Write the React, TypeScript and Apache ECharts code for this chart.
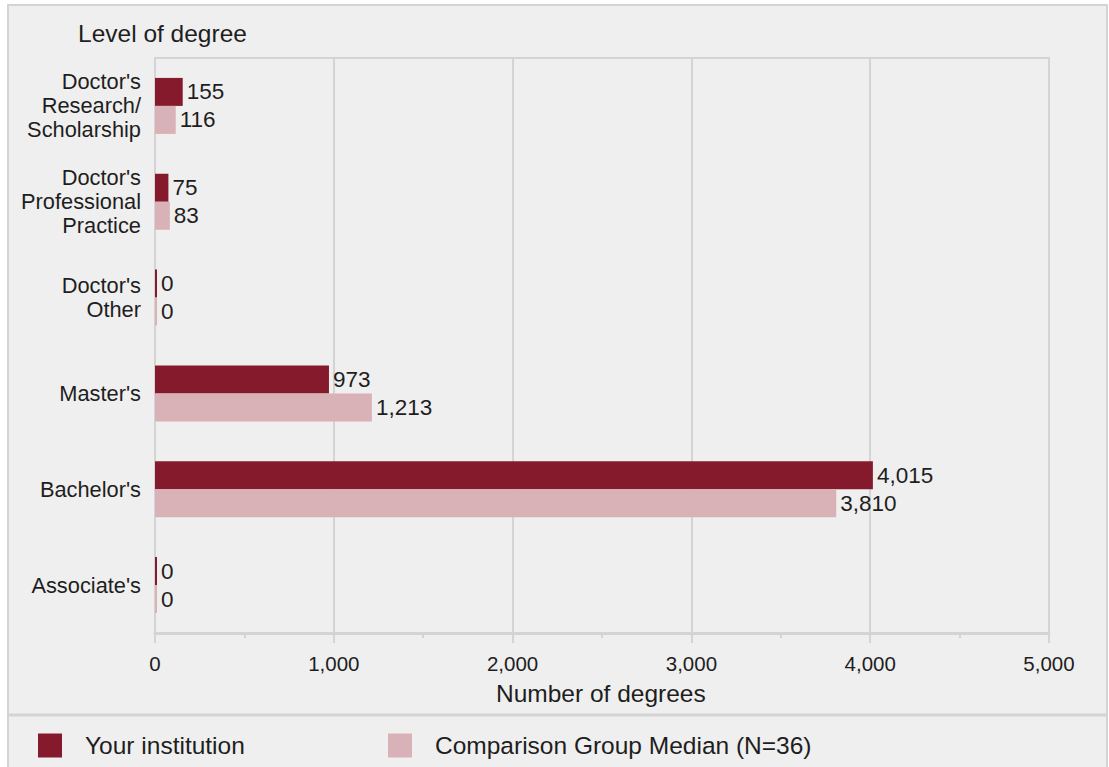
import React, { useEffect, useRef } from "react";
import * as echarts from "echarts";

const categories = [
  "Associate's",
  "Bachelor's",
  "Master's",
  "Doctor's\nOther",
  "Doctor's\nProfessional\nPractice",
  "Doctor's\nResearch/\nScholarship",
];
const institutionValues = [0, 4015, 973, 0, 75, 155];
const medianValues = [0, 3810, 1213, 0, 83, 116];
const xTicks = [0, 1000, 2000, 3000, 4000, 5000];

const seriesNames = ["Your institution", "Comparison Group Median (N=36)"];
const DARK = "#861a2d";
const LIGHT = "#d9b2b8";
const FRAME = "#d4d4d4";
const BG = "#efefef";
const INK = "#1e1e1e";
const FONT = "Liberation Sans, Arial, sans-serif";

export default function App() {
  const ref = useRef<HTMLDivElement>(null);

  useEffect(() => {
    if (!ref.current) return;
    const chart = echarts.init(ref.current, undefined, { renderer: "svg" });
    const fmt = (v: number) => v.toLocaleString("en-US");
    const labelCfg = {
      show: true,
      position: "right" as const,
      distance: 4,
      color: INK,
      fontSize: 22.5,
      fontFamily: FONT,
      formatter: (p: any) => fmt(p.value),
    };
    const legendText = {
      fontSize: 24.5,
      color: INK,
      fontFamily: FONT,
      padding: [0, 0, 0, 18],
    };
    chart.setOption({
      animation: false,
      backgroundColor: "#ffffff",
      textStyle: { fontFamily: FONT },
      graphic: [
        {
          type: "rect",
          z: -10,
          shape: { x: 8, y: 5, width: 1099, height: 770 },
          style: { fill: BG, stroke: FRAME, lineWidth: 2 },
        },
        {
          type: "line",
          z: -5,
          shape: { x1: 8, y1: 715, x2: 1107, y2: 715 },
          style: { stroke: FRAME, lineWidth: 3 },
        },
        {
          type: "text",
          left: 78,
          top: 21,
          style: { text: "Level of degree", fontSize: 24.5, fill: INK, fontFamily: FONT },
        },
        {
          type: "text",
          left: 496,
          top: 681,
          style: { text: "Number of degrees", fontSize: 24.5, fill: INK, fontFamily: FONT },
        },
      ],
      legend: [
        {
          left: 38,
          top: 733,
          padding: 0,
          data: [seriesNames[0]],
          icon: "rect",
          itemWidth: 24,
          itemHeight: 24,
          selectedMode: false,
          textStyle: legendText,
        },
        {
          left: 388,
          top: 733,
          padding: 0,
          data: [seriesNames[1]],
          icon: "rect",
          itemWidth: 24,
          itemHeight: 24,
          selectedMode: false,
          textStyle: legendText,
        },
      ],
      grid: {
        left: 155,
        right: 1109 - 1049,
        top: 58,
        bottom: 767 - 633,
        show: true,
        borderColor: FRAME,
        borderWidth: 2,
        backgroundColor: "transparent",
      },
      xAxis: {
        type: "value",
        min: 0,
        max: 5000,
        interval: 1000,
        axisLine: { show: true, lineStyle: { color: FRAME, width: 3 } },
        axisTick: { show: true, length: 10, lineStyle: { color: FRAME, width: 2 } },
        minorTick: { show: true, splitNumber: 2, length: 5, lineStyle: { color: FRAME, width: 2 } },
        splitLine: { show: true, lineStyle: { color: FRAME, width: 2 } },
        axisLabel: {
          fontSize: 20.5,
          color: INK,
          margin: 20,
          fontFamily: FONT,
          formatter: (v: number) => (xTicks.includes(v) ? fmt(v) : ""),
        },
      },
      yAxis: {
        type: "category",
        data: categories,
        axisLine: { show: true, lineStyle: { color: FRAME, width: 2 } },
        axisTick: { show: false },
        axisLabel: {
          fontSize: 21.8,
          lineHeight: 24,
          padding: [9, 0, 0, 0],
          color: INK,
          margin: 14,
          align: "right",
          verticalAlign: "middle",
          fontFamily: FONT,
        },
      },
      series: [
        {
          name: seriesNames[0],
          type: "bar",
          data: institutionValues,
          barWidth: 28,
          barGap: "0%",
          barMinHeight: 2,
          itemStyle: { color: DARK },
          label: labelCfg,
        },
        {
          name: seriesNames[1],
          type: "bar",
          data: medianValues,
          barWidth: 28,
          barGap: "0%",
          barMinHeight: 2,
          itemStyle: { color: LIGHT },
          label: labelCfg,
        },
      ],
    });
    return () => chart.dispose();
  }, []);

  return (
    <div
      ref={ref}
      style={{ position: "fixed", left: 0, top: 0, width: 1109, height: 767 }}
    />
  );
}
